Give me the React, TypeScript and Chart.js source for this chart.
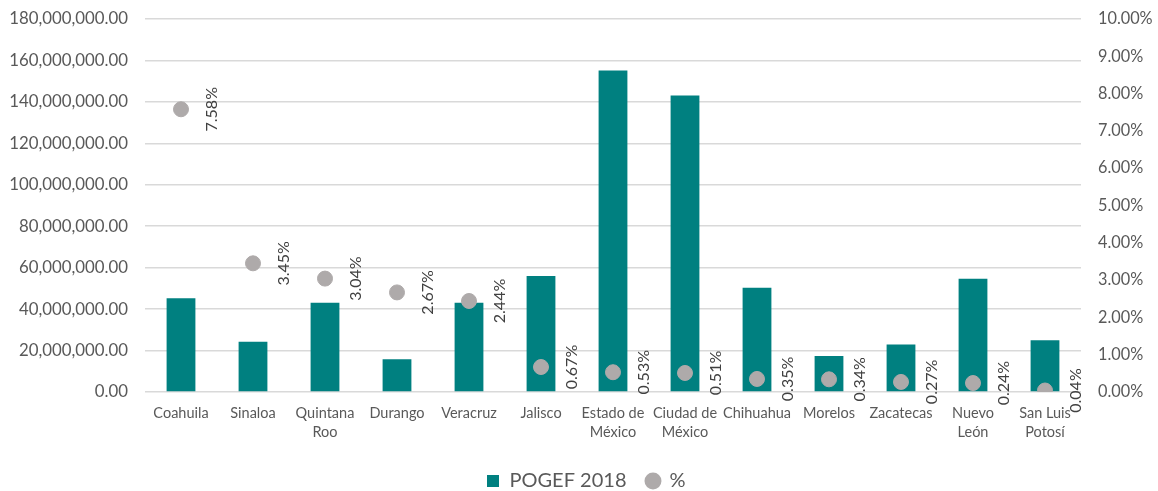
import React, { useEffect, useRef } from "react";
import { Chart, registerables } from "chart.js";

Chart.register(...registerables);

const categories: (string | string[])[] = [
  "Coahuila",
  "Sinaloa",
  ["Quintana", "Roo"],
  "Durango",
  "Veracruz",
  "Jalisco",
  ["Estado de", "México"],
  ["Ciudad de", "México"],
  "Chihuahua",
  "Morelos",
  "Zacatecas",
  ["Nuevo", "León"],
  ["San Luis", "Potosí"],
];

const pogefValues = [
  45300000, 24300000, 43100000, 15800000, 43100000, 56000000, 155200000,
  143100000, 50300000, 17400000, 22900000, 54700000, 25000000,
];

const pctValues = [7.58, 3.45, 3.04, 2.67, 2.44, 0.67, 0.53, 0.51, 0.35, 0.34, 0.27, 0.24, 0.04];

const seriesNames = ["POGEF 2018", "%"];

const FONT = "Lato";

const rotatedLabels = {
  id: "rotatedLabels",
  afterLayout(chart: any) {
    if (chart.legend) chart.legend.left = 14;
  },
  afterDatasetsDraw(chart: any) {
    const meta = chart.getDatasetMeta(1);
    const ctx = chart.ctx;
    ctx.save();
    ctx.font = `16px ${FONT}`;
    ctx.fillStyle = "#404040";
    ctx.textAlign = "center";
    ctx.textBaseline = "middle";
    meta.data.forEach((pt: any, i: number) => {
      ctx.save();
      ctx.translate(pt.x + 31, pt.y);
      ctx.rotate(-Math.PI / 2);
      ctx.fillText(pctValues[i].toFixed(2) + "%", 0, 0);
      ctx.restore();
    });
    ctx.restore();
  },
};

export default function App() {
  const ref = useRef<HTMLCanvasElement | null>(null);

  useEffect(() => {
    if (!ref.current) return;
    Chart.defaults.font.family = FONT;
    Chart.defaults.color = "#595959";
    const chart = new Chart(ref.current, {
      type: "bar",
      data: {
        labels: categories as any,
        datasets: [
          {
            type: "bar",
            label: seriesNames[0],
            data: pogefValues,
            backgroundColor: "#008080",
            yAxisID: "y",
            barPercentage: 0.4,
            categoryPercentage: 1,
            order: 2,
          },
          {
            type: "line",
            label: seriesNames[1],
            data: pctValues,
            showLine: false,
            pointRadius: 7.5,
            pointHoverRadius: 7.5,
            pointBackgroundColor: "#AEAAAA",
            pointBorderColor: "#AEAAAA",
            backgroundColor: "#AEAAAA",
            borderColor: "#AEAAAA",
            pointStyle: "circle",
            yAxisID: "y1",
            order: 1,
          } as any,
        ],
      },
      options: {
        animation: false,
        responsive: false,
        maintainAspectRatio: false,
        layout: { padding: { top: 19, left: 0, right: 0, bottom: 0 } },
        scales: {
          x: {
            grid: { display: false, drawTicks: false },
            border: { display: false },
            ticks: {
              autoSkip: false,
              maxRotation: 0,
              minRotation: 0,
              padding: 12,
              color: "#595959",
              font: { size: 14.5, family: FONT, lineHeight: 1.3 },
            },
            afterFit: (scale: any) => {
              scale.height = 59;
              scale.paddingLeft = 0;
              scale.paddingRight = 0;
            },
          },
          y: {
            position: "left",
            min: 0,
            max: 180000000,
            grid: { color: "#D9D9D9", lineWidth: 1.5, drawTicks: false },
            border: { display: false },
            ticks: {
              stepSize: 20000000,
              padding: 17,
              color: "#595959",
              font: { size: 16.8, family: FONT },
              callback: (v: any) =>
                Number(v).toLocaleString("en-US", {
                  minimumFractionDigits: 2,
                  maximumFractionDigits: 2,
                }),
            },
            afterFit: (scale: any) => {
              scale.width = 145;
              scale.paddingTop = 0;
              scale.paddingBottom = 0;
            },
          },
          y1: {
            position: "right",
            min: 0,
            max: 10,
            grid: { display: false, drawTicks: false },
            border: { display: false },
            ticks: {
              stepSize: 1,
              padding: 17,
              color: "#595959",
              font: { size: 16.3, family: FONT },
              callback: (v: any) => Number(v).toFixed(2) + "%",
            },
            afterFit: (scale: any) => {
              scale.width = 77;
              scale.paddingTop = 0;
              scale.paddingBottom = 0;
            },
          },
        },
        plugins: {
          tooltip: { enabled: false },
          legend: {
            position: "bottom",
            labels: {
              usePointStyle: true,
              boxWidth: 13,
              boxHeight: 12,
              padding: 20,
              color: "#595959",
              font: { size: 20, family: FONT },
              sort: (a: any, b: any) => a.datasetIndex - b.datasetIndex,
              generateLabels: (chart: any) =>
                chart.data.datasets.map((ds: any, i: number) => ({
                  text: ds.label,
                  fillStyle: i === 0 ? "#008080" : "#AEAAAA",
                  strokeStyle: i === 0 ? "#008080" : "#AEAAAA",
                  lineWidth: 0,
                  pointStyle: i === 0 ? "rect" : "circle",
                  hidden: false,
                  datasetIndex: i,
                  fontColor: "#595959",
                })),
            },
          },
        },
      },
      plugins: [rotatedLabels],
    });
    return () => chart.destroy();
  }, []);

  return (
    <div
      style={{
        position: "fixed",
        left: 0,
        top: 0,
        width: 1158,
        height: 491,
        overflow: "hidden",
        background: "#ffffff",
      }}
    >
      <canvas ref={ref} width={1158} height={501} style={{ width: 1158, height: 501, display: "block" }} />
    </div>
  );
}
